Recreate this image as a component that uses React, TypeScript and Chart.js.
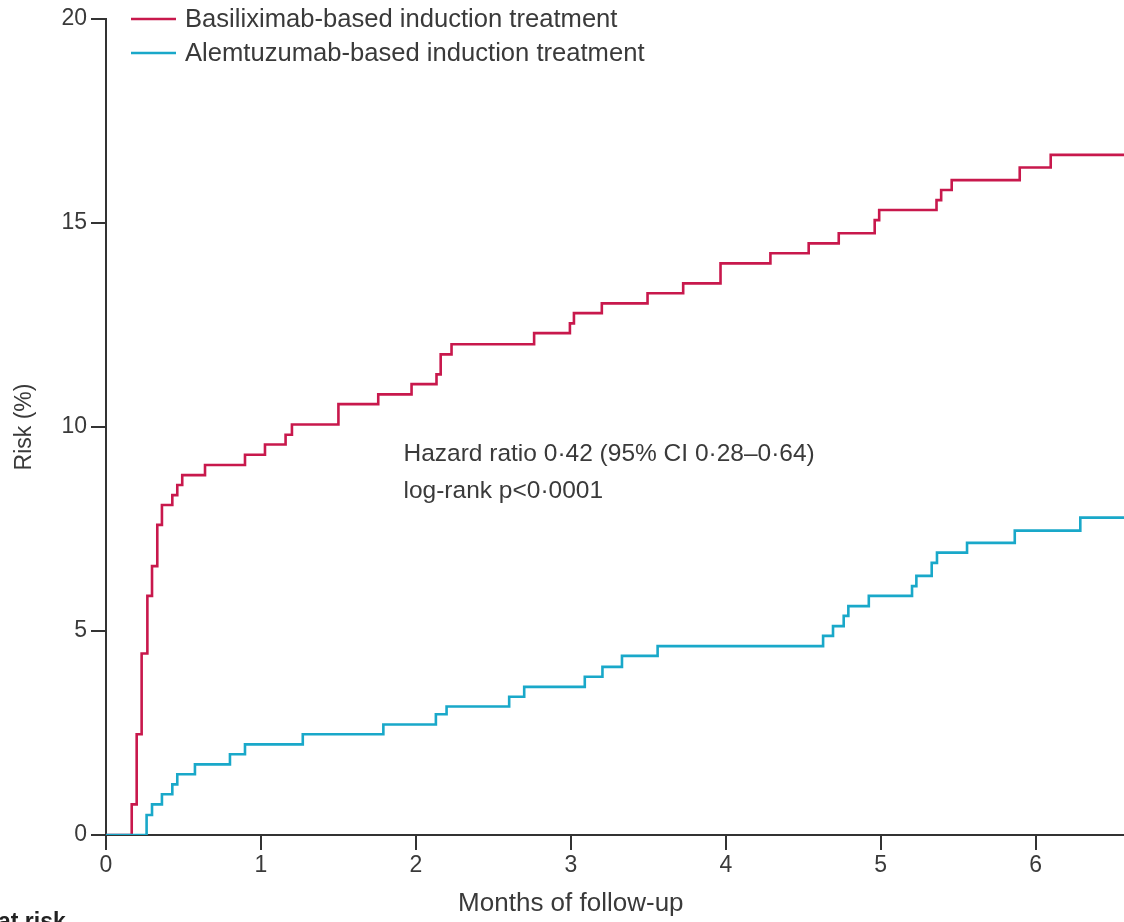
import React, { useEffect, useRef } from "react";
import { Chart, registerables } from "chart.js";

Chart.register(...registerables);

const FONT = '"Liberation Sans", Arial, sans-serif';

const X_MAX = 6.57;
const X_TICKS = [0, 1, 2, 3, 4, 5, 6];
const Y_TICKS = [0, 5, 10, 15, 20];

const SERIES_NAMES = [
  "Basiliximab-based induction treatment",
  "Alemtuzumab-based induction treatment",
];

const basiliximabMonths = [
  0, 0.166, 0.198, 0.23, 0.267, 0.297, 0.331, 0.361, 0.428, 0.46, 0.492, 0.639,
  0.897, 1.026, 1.159, 1.2, 1.5, 1.757, 1.972, 2.133, 2.16, 2.23, 2.763, 2.994,
  3.02, 3.2, 3.495, 3.725, 3.966, 4.288, 4.535, 4.729, 4.961, 4.99, 5.36, 5.39,
  5.458, 5.897, 6.097, 6.57,
];
const basiliximabRisk = [
  0, 0.75, 2.47, 4.45, 5.86, 6.59, 7.6, 8.09, 8.33, 8.58, 8.82, 9.07, 9.32,
  9.57, 9.81, 10.06, 10.56, 10.8, 11.05, 11.29, 11.78, 12.03, 12.3, 12.54,
  12.79, 13.03, 13.28, 13.52, 14.01, 14.26, 14.5, 14.75, 15.07, 15.32, 15.56,
  15.81, 16.05, 16.36, 16.67, 16.67,
];

const alemtuzumabMonths = [
  0, 0.262, 0.297, 0.361, 0.428, 0.46, 0.574, 0.8, 0.897, 1.27, 1.79, 2.129,
  2.198, 2.602, 2.699, 3.09, 3.204, 3.33, 3.56, 4.628, 4.692, 4.761, 4.791,
  4.923, 5.202, 5.23, 5.329, 5.363, 5.557, 5.865, 6.288, 6.57,
];
const alemtuzumabRisk = [
  0, 0.49, 0.75, 1.0, 1.24, 1.49, 1.73, 1.98, 2.22, 2.47, 2.71, 2.96, 3.15,
  3.39, 3.63, 3.88, 4.12, 4.39, 4.63, 4.88, 5.12, 5.37, 5.61, 5.86, 6.1, 6.35,
  6.67, 6.92, 7.16, 7.46, 7.78, 7.78,
];

const ANNOTATION_LINES = [
  "Hazard ratio 0\u00b742 (95% CI 0\u00b728\u20130\u00b764)",
  "log-rank p<0\u00b70001",
];
const X_TITLE = "Months of follow-up";
const Y_TITLE = "Risk (%)";
const AT_RISK_LABEL = "at risk";

const RED = "#c8184c";
const BLUE = "#19a8c9";
const AXIS = "#333333";
const TEXT = "#3a3a3a";

const overlayPlugin = {
  id: "overlay",
  afterDraw(chart: any) {
    const ctx = chart.ctx as CanvasRenderingContext2D;
    const xs = chart.scales.x;
    const ys = chart.scales.y;
    ctx.save();
    // legend
    const colors = [RED, BLUE];
    const rows = [19, 53];
    ctx.font = `25.6px ${FONT}`;
    ctx.textBaseline = "middle";
    ctx.textAlign = "left";
    SERIES_NAMES.forEach((name, i) => {
      ctx.strokeStyle = colors[i];
      ctx.lineWidth = 2.5;
      ctx.beginPath();
      ctx.moveTo(131, rows[i]);
      ctx.lineTo(176, rows[i]);
      ctx.stroke();
      ctx.fillStyle = TEXT;
      ctx.fillText(name, 185, rows[i] + 1);
    });
    // annotation
    ctx.font = `24.5px ${FONT}`;
    const ax = xs.getPixelForValue(1.92);
    ANNOTATION_LINES.forEach((t, i) => {
      ctx.fillText(t, ax, ys.getPixelForValue(9.45) + 5 + i * 37);
    });
    // x title
    ctx.font = `26px ${FONT}`;
    ctx.textAlign = "center";
    ctx.fillText(X_TITLE, xs.getPixelForValue(3.0), 904);
    // at risk (cropped)
    ctx.font = `bold 23px ${FONT}`;
    ctx.textAlign = "left";
    ctx.textBaseline = "alphabetic";
    ctx.fillStyle = "#222";
    ctx.fillText(AT_RISK_LABEL, -2, 929);
    ctx.restore();
  },
};

export default function App() {
  const ref = useRef<HTMLCanvasElement | null>(null);
  useEffect(() => {
    document.body.style.margin = "0";
    const canvas = ref.current!;
    const chart = new Chart(canvas, {
      type: "line",
      data: {
        datasets: [
          {
            label: SERIES_NAMES[0],
            data: basiliximabMonths.map((x, i) => ({ x, y: basiliximabRisk[i] })),
            borderColor: RED,
            borderWidth: 2.6,
            pointRadius: 0,
            stepped: true,
            fill: false,
            order: 1,
          },
          {
            label: SERIES_NAMES[1],
            data: alemtuzumabMonths.map((x, i) => ({ x, y: alemtuzumabRisk[i] })),
            borderColor: BLUE,
            borderWidth: 2.6,
            pointRadius: 0,
            stepped: true,
            fill: false,
            order: 0,
          },
        ],
      },
      options: {
        animation: false,
        responsive: false,
        devicePixelRatio: 1,
        layout: { padding: { top: 19, right: 0, left: 0, bottom: 0 } },
        plugins: {
          legend: { display: false },
          tooltip: { enabled: false },
          title: { display: false },
        },
        scales: {
          x: {
            type: "linear",
            min: 0,
            max: X_MAX,
            afterBuildTicks: (s: any) => {
              s.ticks = X_TICKS.map((v) => ({ value: v }));
            },
            afterFit: (s: any) => {
              s.height = 87;
            },
            ticks: {
              color: TEXT,
              font: { family: FONT, size: 23 },
              padding: 2,
              maxRotation: 0,
              autoSkip: false,
              callback: (v: any) => String(v),
            },
            grid: {
              drawOnChartArea: false,
              drawTicks: true,
              tickLength: 15,
              color: AXIS,
              lineWidth: 2,
            },
            border: { display: true, color: AXIS, width: 2 },
            title: { display: false },
          },
          y: {
            type: "linear",
            min: 0,
            max: 20,
            afterBuildTicks: (s: any) => {
              s.ticks = Y_TICKS.map((v) => ({ value: v }));
            },
            afterFit: (s: any) => {
              s.width = 106;
            },
            ticks: {
              color: TEXT,
              font: { family: FONT, size: 23 },
              padding: 4,
              callback: (v: any) => String(v),
            },
            grid: {
              drawOnChartArea: false,
              drawTicks: true,
              tickLength: 15,
              color: AXIS,
              lineWidth: 2,
            },
            border: { display: true, color: AXIS, width: 2 },
            title: {
              display: true,
              text: Y_TITLE,
              color: TEXT,
              font: { family: FONT, size: 23 },
              padding: { top: 11, bottom: 0 },
            },
          },
        },
      },
      plugins: [overlayPlugin],
    });
    return () => chart.destroy();
  }, []);
  return <canvas ref={ref} width={1124} height={922} style={{ display: "block" }} />;
}
